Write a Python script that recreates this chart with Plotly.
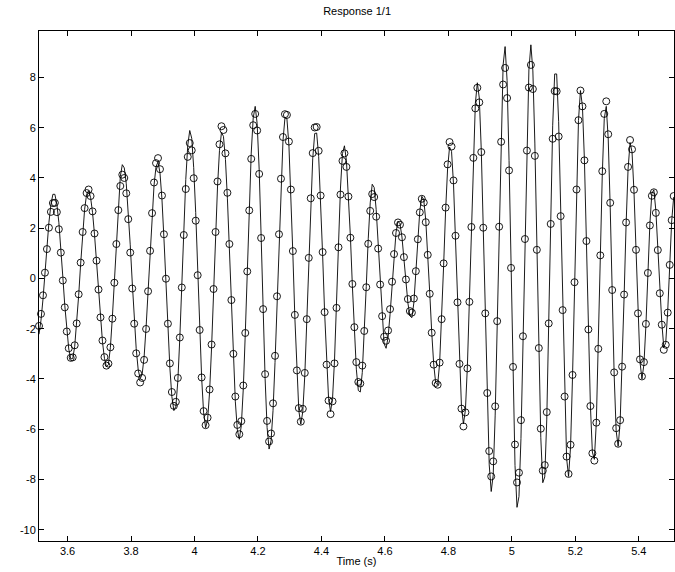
import numpy as np
import plotly.graph_objects as go

# sampling of the record (start time and step, seconds)
t_start = 3.51
dt = 0.00625

# measured output (circles)
measured = [
 -1.89,-1.41,-0.67,0.23,1.17,2.02,2.65,3.0,3.01,2.64,1.96,1.03,-0.08,-1.15,-2.11,-2.78,-3.16,-3.14,-2.66,-1.79,
 -0.63,0.63,1.85,2.8,3.4,3.54,3.28,2.67,1.79,0.71,-0.44,-1.55,-2.47,-3.13,-3.47,-3.39,-2.74,-1.6,-0.17,1.37,
 2.72,3.68,4.13,4.0,3.39,2.36,1.03,-0.4,-1.8,-2.98,-3.78,-4.14,-3.96,-3.24,-2.01,-0.51,1.1,2.6,3.82,4.59,
 4.79,4.35,3.3,1.76,-0.01,-1.8,-3.38,-4.52,-5.07,-4.91,-3.96,-2.35,-0.36,1.73,3.56,4.84,5.39,5.1,3.99,2.3,
 0.13,-2.05,-3.94,-5.28,-5.84,-5.54,-4.42,-2.63,-0.42,1.85,3.86,5.34,6.06,5.91,4.98,3.41,1.37,-0.86,-3.0,-4.7,
 -5.83,-6.2,-5.68,-4.26,-2.17,0.28,2.71,4.76,6.1,6.55,5.89,4.16,1.61,-1.22,-3.81,-5.67,-6.49,-6.17,-4.97,-3.08,
 -0.71,1.76,3.97,5.63,6.54,6.51,5.45,3.54,1.09,-1.45,-3.66,-5.16,-5.7,-5.19,-3.76,-1.62,0.82,3.19,4.99,6.01,
 6.03,5.08,3.3,1.05,-1.34,-3.43,-4.86,-5.4,-4.89,-3.38,-1.17,1.24,3.34,4.68,4.98,4.44,3.26,1.62,-0.22,-1.94,
 -3.33,-4.12,-4.18,-3.47,-2.09,-0.35,1.38,2.69,3.36,3.24,2.46,1.19,-0.24,-1.5,-2.32,-2.48,-2.07,-1.22,-0.13,0.97,
 1.81,2.23,2.14,1.64,0.85,-0.04,-0.82,-1.3,-1.36,-0.8,0.29,1.56,2.63,3.17,3.02,2.24,0.94,-0.61,-2.16,-3.43,
 -4.16,-4.23,-3.35,-1.62,0.6,2.82,4.54,5.43,5.25,3.9,1.7,-0.95,-3.4,-5.18,-5.89,-5.33,-3.58,-0.93,2.05,4.8,
 6.77,7.59,7.01,5.03,2.02,-1.39,-4.56,-6.87,-7.88,-7.28,-5.09,-1.7,2.06,5.44,7.72,8.38,7.18,4.3,0.42,-3.52,
 -6.61,-8.12,-7.73,-5.64,-2.3,1.57,5.09,7.6,8.5,7.54,4.88,1.14,-2.77,-5.98,-7.65,-7.43,-5.32,-1.79,2.17,5.56,
 7.46,7.45,5.65,2.48,-1.26,-4.7,-7.09,-7.78,-6.62,-3.84,-0.15,3.54,6.3,7.48,6.85,4.7,1.49,-2.03,-5.08,-6.96,
 -7.25,-5.74,-2.8,0.92,4.27,6.55,7.05,5.74,3.01,-0.46,-3.74,-5.96,-6.58,-5.64,-3.51,-0.64,2.23,4.44,5.51,5.14,
 3.53,1.14,-1.39,-3.22,-3.9,-3.33,-1.81,0.22,2.11,3.29,3.43,2.61,1.13,-0.59,-1.84,-2.84,-2.64,-1.36,0.54,2.32,
 3.28]

# simulated model output (solid line)
model = [
 -2.22,-1.67,-0.83,0.2,1.27,2.23,2.94,3.35,3.35,2.96,2.24,1.26,0.08,-1.07,-2.09,-2.81,-3.2,-3.19,-2.71,-1.84,
 -0.68,0.58,1.8,2.75,3.35,3.49,3.23,2.62,1.74,0.66,-0.49,-1.6,-2.52,-3.18,-3.52,-3.43,-2.74,-1.53,-0.02,1.6,
 3.03,4.06,4.53,4.4,3.77,2.71,1.34,-0.14,-1.58,-2.79,-3.62,-3.99,-3.82,-3.12,-1.93,-0.48,1.08,2.53,3.71,4.45,
 4.64,4.2,3.14,1.59,-0.19,-1.99,-3.57,-4.71,-5.26,-5.09,-4.08,-2.37,-0.24,1.99,3.94,5.3,5.89,5.58,4.41,2.63,
 0.35,-1.95,-3.94,-5.35,-5.94,-5.64,-4.53,-2.77,-0.59,1.65,3.64,5.1,5.81,5.66,4.74,3.17,1.14,-1.08,-3.22,-4.91,
 -6.03,-6.4,-5.86,-4.39,-2.21,0.33,2.86,4.99,6.39,6.85,6.16,4.35,1.68,-1.27,-3.99,-5.93,-6.79,-6.47,-5.25,-3.34,
 -0.94,1.55,3.79,5.47,6.39,6.36,5.31,3.41,0.97,-1.57,-3.77,-5.26,-5.8,-5.3,-3.88,-1.78,0.64,2.98,4.76,5.77,
 5.79,4.86,3.13,0.95,-1.36,-3.38,-4.78,-5.3,-4.78,-3.24,-0.99,1.46,3.6,4.97,5.28,4.7,3.43,1.69,-0.29,-2.13,
 -3.61,-4.46,-4.52,-3.74,-2.23,-0.32,1.58,3.01,3.75,3.62,2.74,1.33,-0.27,-1.68,-2.6,-2.78,-2.34,-1.43,-0.25,0.92,
 1.83,2.28,2.18,1.65,0.8,-0.15,-0.98,-1.49,-1.56,-0.97,0.2,1.56,2.69,3.27,3.12,2.32,1.01,-0.56,-2.13,-3.41,
 -4.16,-4.23,-3.37,-1.67,0.5,2.68,4.36,5.23,5.06,3.75,1.6,-0.98,-3.37,-5.1,-5.79,-5.23,-3.47,-0.8,2.21,4.98,
 6.96,7.79,7.18,5.1,1.93,-1.65,-4.99,-7.42,-8.48,-7.83,-5.44,-1.75,2.35,6.03,8.5,9.23,7.89,4.69,0.38,-4.0,
 -7.44,-9.11,-8.68,-6.37,-2.67,1.62,5.53,8.3,9.3,8.26,5.39,1.35,-2.87,-6.34,-8.13,-7.9,-5.63,-1.83,2.44,6.1,
 8.14,8.14,6.24,2.91,-1.02,-4.64,-7.15,-7.88,-6.71,-3.91,-0.2,3.51,6.29,7.48,6.85,4.71,1.51,-1.99,-5.04,-6.91,
 -7.2,-5.72,-2.83,0.82,4.12,6.36,6.85,5.55,2.84,-0.61,-3.86,-6.07,-6.68,-5.74,-3.61,-0.74,2.13,4.34,5.41,5.04,
 3.43,1.04,-1.49,-3.32,-4.0,-3.42,-1.86,0.23,2.18,3.39,3.53,2.71,1.23,-0.49,-1.74,-2.74,-2.55,-1.29,0.56,2.29,
 3.24]

x_tick_vals = [3.6, 3.8, 4.0, 4.2, 4.4, 4.6, 4.8, 5.0, 5.2, 5.4]
x_tick_text = ["3.6", "3.8", "4", "4.2", "4.4", "4.6", "4.8", "5", "5.2", "5.4"]
y_tick_vals = [-10, -8, -6, -4, -2, 0, 2, 4, 6, 8]
y_tick_text = ["-10", "-8", "-6", "-4", "-2", "0", "2", "4", "6", "8"]

time = t_start + dt * np.arange(len(measured))

FONT = "Liberation Sans, Arial, Helvetica, sans-serif"

fig = go.Figure()
fig.add_trace(go.Scatter(
    x=time, y=model, mode="lines",
    line=dict(color="black", width=0.9),
    showlegend=False, hoverinfo="skip"))
fig.add_trace(go.Scatter(
    x=time, y=measured, mode="markers",
    marker=dict(symbol="circle-open", size=7, color="black",
                line=dict(color="black", width=0.9)),
    cliponaxis=False, showlegend=False))

fig.update_layout(
    width=675, height=572,
    paper_bgcolor="white", plot_bgcolor="white",
    margin=dict(l=39, r=1, t=31, b=31),
    font=dict(family=FONT, size=11, color="black"),
    title=dict(text="Response 1/1", x=0.529, xanchor="center",
               y=1 - 11 / 572, yanchor="middle", yref="container",
               font=dict(family=FONT, size=11, color="black")),
)
fig.update_xaxes(
    range=[3.51, 5.511], tickvals=x_tick_vals, ticktext=x_tick_text,
    ticks="inside", ticklen=5, tickcolor="black", tickwidth=1,
    showline=True, linecolor="black", linewidth=1, mirror="ticks",
    showgrid=False, zeroline=False,
    title=dict(text="Time (s)", standoff=1, font=dict(family=FONT, size=11)),
    tickfont=dict(family=FONT, size=11))
fig.update_yaxes(
    range=[-10.45, 9.85], tickvals=y_tick_vals, ticktext=y_tick_text,
    ticks="inside", ticklen=5, tickcolor="black", tickwidth=1,
    showline=True, linecolor="black", linewidth=1, mirror="ticks",
    showgrid=False, zeroline=False,
    tickfont=dict(family=FONT, size=11))

fig.write_html("out.html",
               config={"displayModeBar": False},
               post_script="document.body.style.margin='0';document.body.style.overflow='hidden';")
